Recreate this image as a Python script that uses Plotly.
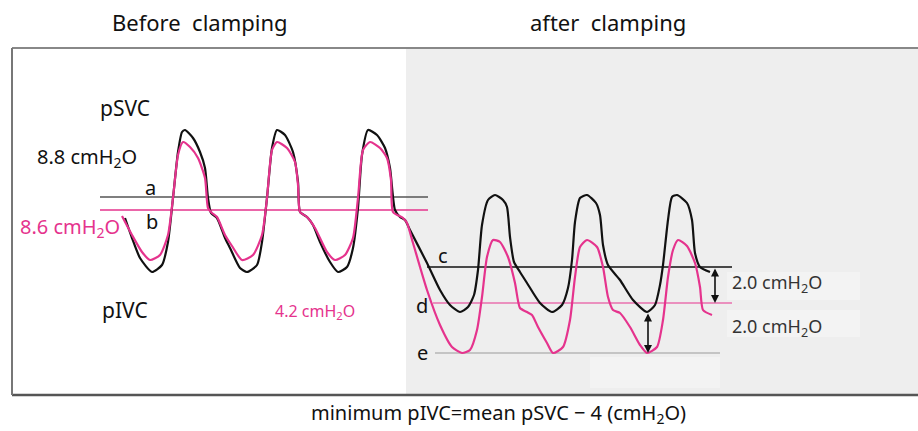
import plotly.graph_objects as go

# ---- traced waveform data (time in s, pressure in cmH2O) ----
psvc_t = [-0.25, 0.1, 0.5, 1.1, 1.6, 1.9, 2.15, 2.4, 2.6, 2.75, 3.15, 3.5, 3.75, 3.9, 4.05, 4.35,
          4.75, 5.0, 5.5, 5.85, 6.35, 6.6, 6.85, 7.1, 7.35, 7.75, 8.15, 8.4, 8.5, 8.85, 9.15,
          9.5, 10.0, 10.4, 10.85, 11.15, 11.4, 11.6, 11.9, 12.35, 12.75, 13.0, 13.25, 13.5, 13.75,
          14.0, 14.85, 15.5, 16.0, 16.5, 16.9, 17.2, 17.4, 17.6, 17.9, 18.25, 18.65, 18.85, 19.0,
          19.2, 19.5, 19.85, 20.5, 21.1, 21.6, 21.9, 22.1, 22.25, 22.5, 22.85, 23.3, 23.5, 23.65,
          23.9, 24.5, 25.15, 25.85, 26.25, 26.5, 26.65, 26.9, 27.1, 27.35, 27.85, 28.1, 28.25,
          28.5, 29.0]
psvc_p = [7.75, 6.75, 5.75, 5.05, 5.4, 6.55, 8.75, 11.05, 12.05, 12.15, 11.75, 11.05, 10.25, 8.75, 8.0, 7.75,
          6.75, 6.25, 5.25, 5.05, 5.4, 6.55, 8.75, 11.25, 12.15, 11.9, 11.05, 9.55, 8.05, 7.8, 7.4,
          6.55, 5.55, 5.05, 5.3, 6.25, 8.25, 10.9, 12.15, 11.9, 11.25, 10.25, 8.15, 7.8, 7.65,
          7.15, 5.5, 4.15, 3.4, 3.05, 3.3, 3.9, 5.15, 7.4, 8.65, 8.9, 8.65, 8.3, 6.8,
          5.55, 5.05, 4.5, 3.5, 3.05, 3.4, 4.25, 5.65, 7.55, 8.75, 8.9, 8.5, 7.9, 6.4,
          5.4, 4.65, 3.65, 3.05, 3.4, 4.4, 5.4, 7.65, 8.8, 8.9, 8.5, 7.65, 6.0,
          5.3, 5.05]

pivc_t = [-0.4, 0.1, 0.6, 1.0, 1.5, 1.9, 2.15, 2.4, 2.65, 3.0, 3.4, 3.75, 3.9, 4.1, 4.35,
          4.75, 5.1, 5.6, 6.15, 6.6, 6.85, 7.1, 7.35, 7.85, 8.25, 8.4, 8.5, 8.85, 9.25,
          9.85, 10.25, 10.75, 11.15, 11.4, 11.65, 12.0, 12.5, 12.85, 13.05, 13.15, 13.65, 13.85,
          14.15, 14.85, 15.5, 16.1, 16.6, 17.0, 17.35, 17.6, 17.85, 18.15, 18.5, 18.9, 19.25,
          19.5, 19.85, 20.1, 20.4, 20.85, 21.15, 21.65, 22.0, 22.25, 22.5, 22.85, 23.35, 23.65,
          23.9, 24.15, 24.5, 25.0, 25.5, 25.85, 26.35, 26.65, 26.9, 27.15, 27.4, 27.85, 28.25,
          28.5, 28.65, 29.1]
pivc_p = [7.85, 6.9, 6.05, 5.65, 5.9, 6.9, 8.75, 10.9, 11.55, 11.3, 10.75, 9.75, 8.25, 8.0, 7.8,
          6.9, 6.35, 5.65, 5.9, 6.9, 8.75, 11.15, 11.55, 11.25, 10.55, 9.4, 8.05, 7.8, 7.25,
          6.05, 5.65, 5.9, 6.75, 8.75, 11.15, 11.55, 11.25, 10.75, 9.65, 8.05, 7.75, 7.5,
          6.5, 4.15, 2.4, 1.3, 1.0, 1.15, 2.15, 3.8, 5.8, 6.65, 6.55, 5.8, 4.5,
          3.25, 3.05, 2.9, 2.3, 1.5, 1.0, 1.3, 2.65, 4.8, 6.3, 6.65, 6.3, 5.3,
          3.8, 3.15, 3.0, 2.3, 1.4, 1.0, 1.3, 2.65, 4.8, 6.15, 6.65, 6.35, 5.5,
          4.3, 3.15, 2.9]

# reference levels a-e
level_names = ["a", "b", "c", "d", "e"]
level_values = [8.8, 8.15, 5.3, 3.5, 1.0]
level_start = [-1.5, -1.5, 14.85, 15.15, 15.25]
level_end = [14.9, 14.9, 30.1, 30.1, 29.5]
level_colors = ["#555555", "#e5338d", "#111111", "#e5338d", "#999999"]
level_widths = [1.6, 1.6, 1.6, 1.2, 1.2]

PINK = "#e5338d"
FONT = "Noto Sans"

fig = go.Figure()

W, H = 918, 431
def px(x):
    return x / W
def py(y):
    return 1 - y / H

shapes = [
    dict(type="rect", xref="paper", yref="paper", x0=px(406), x1=1.0, y0=py(394), y1=py(49),
         fillcolor="#eeeeee", line=dict(width=0), layer="below"),
    dict(type="rect", xref="paper", yref="paper", x0=px(727), x1=px(860), y0=py(300), y1=py(272),
         fillcolor="#f3f3f3", line=dict(width=0), layer="below"),
    dict(type="rect", xref="paper", yref="paper", x0=px(727), x1=px(860), y0=py(337), y1=py(310),
         fillcolor="#f3f3f3", line=dict(width=0), layer="below"),
    dict(type="rect", xref="paper", yref="paper", x0=px(590), x1=px(720), y0=py(388), y1=py(357),
         fillcolor="#f3f3f3", line=dict(width=0), layer="below"),
    dict(type="line", xref="paper", yref="paper", x0=px(12), x1=1.0, y0=py(48), y1=py(48),
         line=dict(color="#888888", width=2)),
    dict(type="line", xref="paper", yref="paper", x0=px(12), x1=1.0, y0=py(395), y1=py(395),
         line=dict(color="#555555", width=2.5)),
    dict(type="line", xref="paper", yref="paper", x0=px(12), x1=px(12), y0=py(395), y1=py(48),
         line=dict(color="#777777", width=2)),
]

for name, v, s, e, c, w in zip(level_names, level_values, level_start, level_end, level_colors, level_widths):
    fig.add_trace(go.Scatter(x=[s, e], y=[v, v], mode="lines", line=dict(color=c, width=w),
                             hoverinfo="skip", showlegend=False))

fig.add_trace(go.Scatter(x=psvc_t, y=psvc_p, mode="lines", name="pSVC",
                         line=dict(color="#111111", width=2.2, shape="spline", smoothing=0.6),
                         showlegend=False))
fig.add_trace(go.Scatter(x=pivc_t, y=pivc_p, mode="lines", name="pIVC",
                         line=dict(color=PINK, width=2.2, shape="spline", smoothing=0.6),
                         showlegend=False))

ann = []
def text(x, y, t, size=16, color="#111111", xanchor="center"):
    ann.append(dict(x=x, y=y, xref="x", yref="y", text=t, showarrow=False,
                    font=dict(family=FONT, size=size, color=color), xanchor=xanchor, yanchor="middle"))

text(3.5, 17.55, "Before  clamping", 22)
text(23.9, 17.55, "after  clamping", 22)
text(-0.25, 13.25, "pSVC", 21)
text(-2.15, 10.8, "8.8 cmH<sub>2</sub>O", 20)
text(1.0, 9.3, "a", 20)
text(1.1, 7.6, "b", 20)
text(-3.0, 7.3, "8.6 cmH<sub>2</sub>O", 20, PINK)
text(-0.25, 3.15, "pIVC", 21)
text(9.25, 3.1, "4.2 cmH<sub>2</sub>O", 16, PINK)
text(15.65, 5.9, "c", 20)
text(14.6, 3.4, "d", 20)
text(14.6, 1.05, "e", 20)
text(30.0, 4.5, "2.0 cmH<sub>2</sub>O", 18, "#333333", "left")
text(30.0, 2.3, "2.0 cmH<sub>2</sub>O", 18, "#333333", "left")
text(18.4, -2.0, "minimum pIVC=mean pSVC − 4 (cmH<sub>2</sub>O)", 20)

# double arrows
for (xa, y0, y1) in [(29.25, level_values[2], level_values[3]), (25.9, 3.05, level_values[4])]:
    ann.append(dict(x=xa, y=y1, ax=xa, ay=y0, xref="x", yref="y", axref="x", ayref="y",
                    text="", showarrow=True, arrowhead=2, arrowside="end+start",
                    arrowsize=1, arrowwidth=1.6, arrowcolor="#111111"))

fig.update_layout(
    width=W, height=H, margin=dict(l=0, r=0, t=0, b=0),
    paper_bgcolor="white", plot_bgcolor="rgba(0,0,0,0)",
    xaxis=dict(range=[-6.5, 39.4], visible=False, fixedrange=True),
    yaxis=dict(range=[-2.9, 18.65], visible=False, fixedrange=True),
    shapes=shapes, annotations=ann, showlegend=False,
)

fig.write_html("out.html", config={"displayModeBar": False},
               post_script="document.body.style.margin='0px';")
